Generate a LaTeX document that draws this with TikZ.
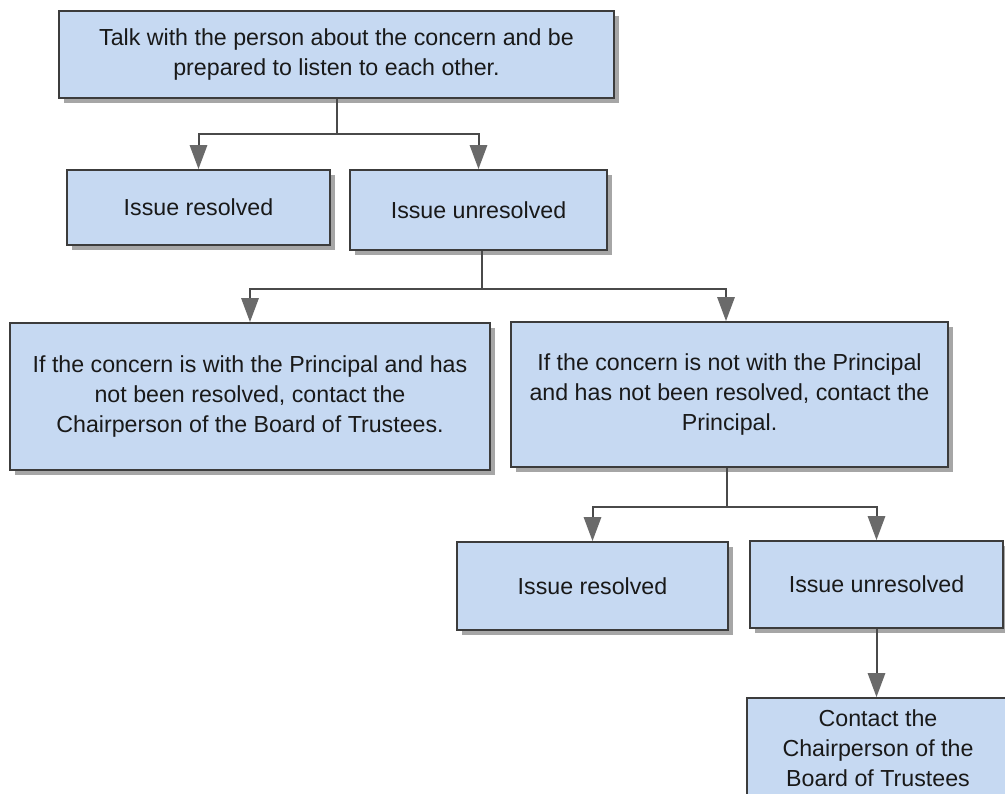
\documentclass[tikz,border=0pt]{standalone}
\usepackage{fontspec}
\setmainfont{Liberation Sans}
\usetikzlibrary{arrows.meta,shadows}
\definecolor{boxfill}{HTML}{C6D9F2}
\definecolor{boxline}{HTML}{3C3C3C}
\definecolor{conline}{HTML}{4A4A4A}
\definecolor{tipfill}{HTML}{6A6A6A}
\def\pxu{0.75pt}
\begin{document}
\begin{tikzpicture}[x=0.75pt,y=-0.75pt,
  flowbox/.style={draw=boxline,line width=1.4pt,fill=boxfill,align=center,
    inner sep=0pt,font=\fontsize{17.4}{22.5}\selectfont,text=black!90,
    drop shadow={shadow xshift=3.5pt,shadow yshift=-3.5pt,fill=black,opacity=0.35}},
  conn/.style={draw=conline,line width=1.5pt},
  arr/.style={conn,-{Triangle[width=13pt,length=18pt,fill=tipfill,color=tipfill]}}]
\clip (0,0) rectangle (1005,793);
\fill[white] (0,0) rectangle (1005,793);
\node[flowbox,minimum width=555*\pxu,minimum height=87*\pxu] (top) at (336.5,54.5)
  {Talk with the person about the concern and be\\prepared to listen to each other.};
\node[flowbox,minimum width=263*\pxu,minimum height=75*\pxu] (res1) at (198.5,207.5) {Issue resolved};
\node[flowbox,minimum width=257*\pxu,minimum height=80*\pxu] (unres1) at (478.5,210) {Issue unresolved};
\node[flowbox,minimum width=480*\pxu,minimum height=147*\pxu] (left) at (250,396.5)
  {If the concern is with the Principal and has\\not been resolved, contact the\\Chairperson of the Board of Trustees.};
\node[flowbox,minimum width=437*\pxu,minimum height=145*\pxu] (right) at (729.5,394.5)
  {If the concern is not with the Principal\\and has not been resolved, contact the\\Principal.};
\node[flowbox,minimum width=271*\pxu,minimum height=88*\pxu] (res2) at (592.5,586) {Issue resolved};
\node[flowbox,minimum width=253*\pxu,minimum height=87*\pxu] (unres2) at (876.5,584.5) {Issue unresolved};
\node[flowbox,minimum width=262*\pxu,minimum height=100*\pxu] (contact) at (878,748)
  {Contact the\\Chairperson of the\\Board of Trustees};
% connectors
\coordinate (j1) at (336.5,134);
\draw[conn] (top.south) -- (j1);
\draw[arr] (j1) -| (res1.north);
\draw[arr] (j1) -| (unres1.north);
\coordinate (j2) at (482,289);
\draw[conn] (unres1.south -| j2) -- (j2);
\draw[arr] (j2) -| (left.north);
\draw[arr] (j2) -| ([xshift=-3.5*\pxu]right.north);
\coordinate (j3) at (727,507);
\draw[conn] (right.south -| j3) -- (j3);
\draw[arr] (j3) -| (res2.north);
\draw[arr] (j3) -| (unres2.north);
\draw[arr] (unres2.south) -- (unres2.south |- contact.north);
\end{tikzpicture}
\end{document}
